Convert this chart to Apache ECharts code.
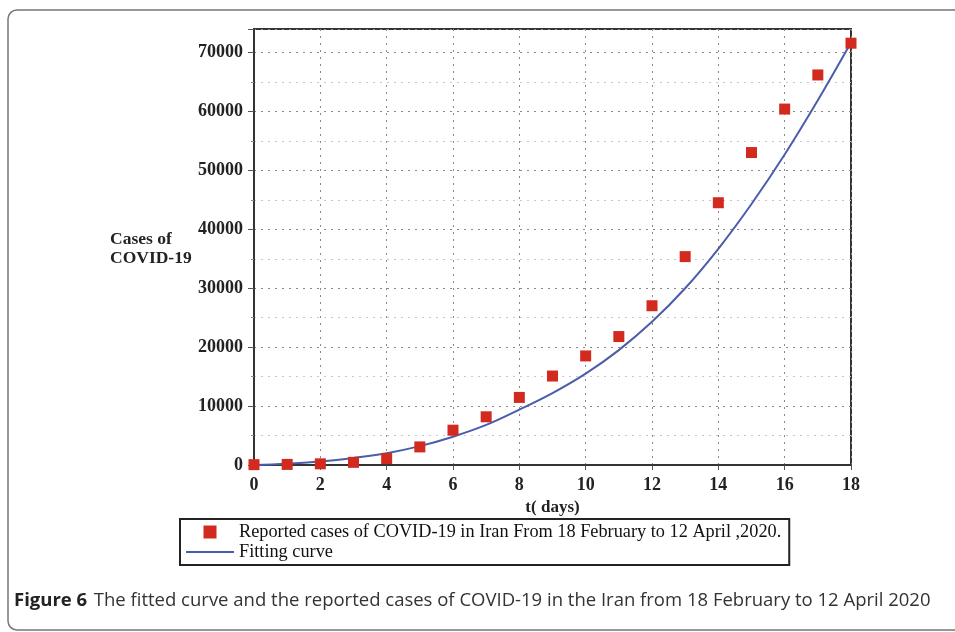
<!DOCTYPE html>
<html>
<head>
<meta charset="utf-8">
<script src="https://cdn.jsdelivr.net/npm/echarts@6/dist/echarts.min.js"></script>
<style>
html,body{margin:0;padding:0;background:#fff;}
#chart{width:955px;height:632px;}
</style>
</head>
<body>
<div id="chart"></div>
<script>
// Data
const days = [0,1,2,3,4,5,6,7,8,9,10,11,12,13,14,15,16,17,18];
const reportedCases = [60,100,200,450,1100,3070,5910,8180,11470,15100,18510,21800,27030,35370,44510,53030,60410,66200,71590];
const fittingCurve = [0,200,600,1200,2000,3200,4800,6800,9400,12200,15500,19500,24300,30000,36700,44300,52700,61900,71700];
const xTicks = [0,2,4,6,8,10,12,14,16,18];
const yTicks = [0,10000,20000,30000,40000,50000,60000,70000];
const seriesNames = ['Reported cases of COVID-19 in Iran From 18 February to 12 April ,2020.', 'Fitting curve'];
const yTitle = 'Cases of\nCOVID-19';
const xTitle = 't( days)';
const captionBold = 'Figure 6';
const captionText = 'The fitted curve and the reported cases of COVID-19 in the Iran from 18 February to 12 April 2020';

const serif = '"Liberation Serif","Times New Roman",serif';
const sans = '"Open Sans","Noto Sans",sans-serif';
const chart = echarts.init(document.getElementById('chart'));
chart.setOption({
  animation: false,
  backgroundColor: '#fff',
  grid: {left: 254, top: 29, width: 597, height: 436, show: true, borderColor: '#333', borderWidth: 2, backgroundColor: 'transparent'},
  xAxis: {
    type: 'value', min: 0, max: 18, interval: 2,
    name: xTitle, nameLocation: 'middle', nameGap: 29,
    nameTextStyle: {fontFamily: serif, fontSize: 17, fontWeight: 'bold', color: '#222'},
    axisLine: {show: true, lineStyle: {color: '#333', width: 2}},
    axisTick: {show: true, length: 5, lineStyle: {color: '#555'}},
    axisLabel: {margin: 11, fontFamily: serif, fontSize: 18, fontWeight: 'bold', color: '#222',
      formatter: v => xTicks.indexOf(v) >= 0 ? String(v) : ''},
    splitLine: {show: true, lineStyle: {color: '#888', type: [2, 5], width: 1}}
  },
  yAxis: {
    type: 'value', min: 0, max: 74000, interval: 10000,
    axisLine: {show: true, lineStyle: {color: '#333', width: 2}},
    axisTick: {show: true, length: 6, lineStyle: {color: '#555'}},
    axisLabel: {margin: 11, showMaxLabel: false, fontFamily: serif, fontSize: 18, fontWeight: 'bold', color: '#222',
      formatter: v => yTicks.indexOf(v) >= 0 ? String(v) : ''},
    splitLine: {show: true, lineStyle: {color: '#888', type: [2, 5], width: 1}},
    minorTick: {show: true, splitNumber: 2, length: 3, lineStyle: {color: '#888'}},
    minorSplitLine: {show: true, lineStyle: {color: '#c8c8c8', type: [2, 5], width: 1}}
  },
  legend: {
    orient: 'vertical', left: 180, top: 519,
    padding: [4, 8, 4, 6], itemGap: 2,
    borderColor: '#222', borderWidth: 2,
    itemWidth: 48, itemHeight: 13,
    symbolKeepAspect: true,
    textStyle: {fontFamily: serif, fontSize: 18.3, color: '#111'},
    data: [
      {name: seriesNames[0], icon: 'path://M0 0H10V10H0Z'},
      {name: seriesNames[1], icon: 'path://M0 0H48V2H0Z'}
    ]
  },
  graphic: [
    {type: 'rect', shape: {x: 8, y: 10, width: 1000, height: 620, r: 9}, style: {fill: 'none', stroke: '#777', lineWidth: 1.5}, silent: true},
    {type: 'text', left: 110, top: 230, style: {text: yTitle, fontFamily: serif, fontSize: 17.5, fontWeight: 'bold', fill: '#222', lineHeight: 19}},
    {type: 'text', left: 14, top: 591, style: {
      text: '{b|' + captionBold + '}  {r|' + captionText + '}',
      rich: {
        b: {fontFamily: sans, fontSize: 18.5, fontWeight: 'bold', fill: '#222'},
        r: {fontFamily: sans, fontSize: 18.5, fill: '#333'}
      }
    }}
  ],
  series: [
    {
      name: seriesNames[0], type: 'scatter', symbol: 'rect', symbolSize: 11,
      itemStyle: {color: '#d22a1f', opacity: 1}, z: 3,
      data: days.map((d, i) => [d, reportedCases[i]])
    },
    {
      name: seriesNames[1], type: 'line', smooth: 0.4, symbol: 'none', showSymbol: false,
      lineStyle: {color: '#4a5dab', width: 2}, itemStyle: {color: '#4a5dab'}, z: 2,
      data: days.map((d, i) => [d, fittingCurve[i]])
    }
  ]
});
</script>
</body>
</html>
